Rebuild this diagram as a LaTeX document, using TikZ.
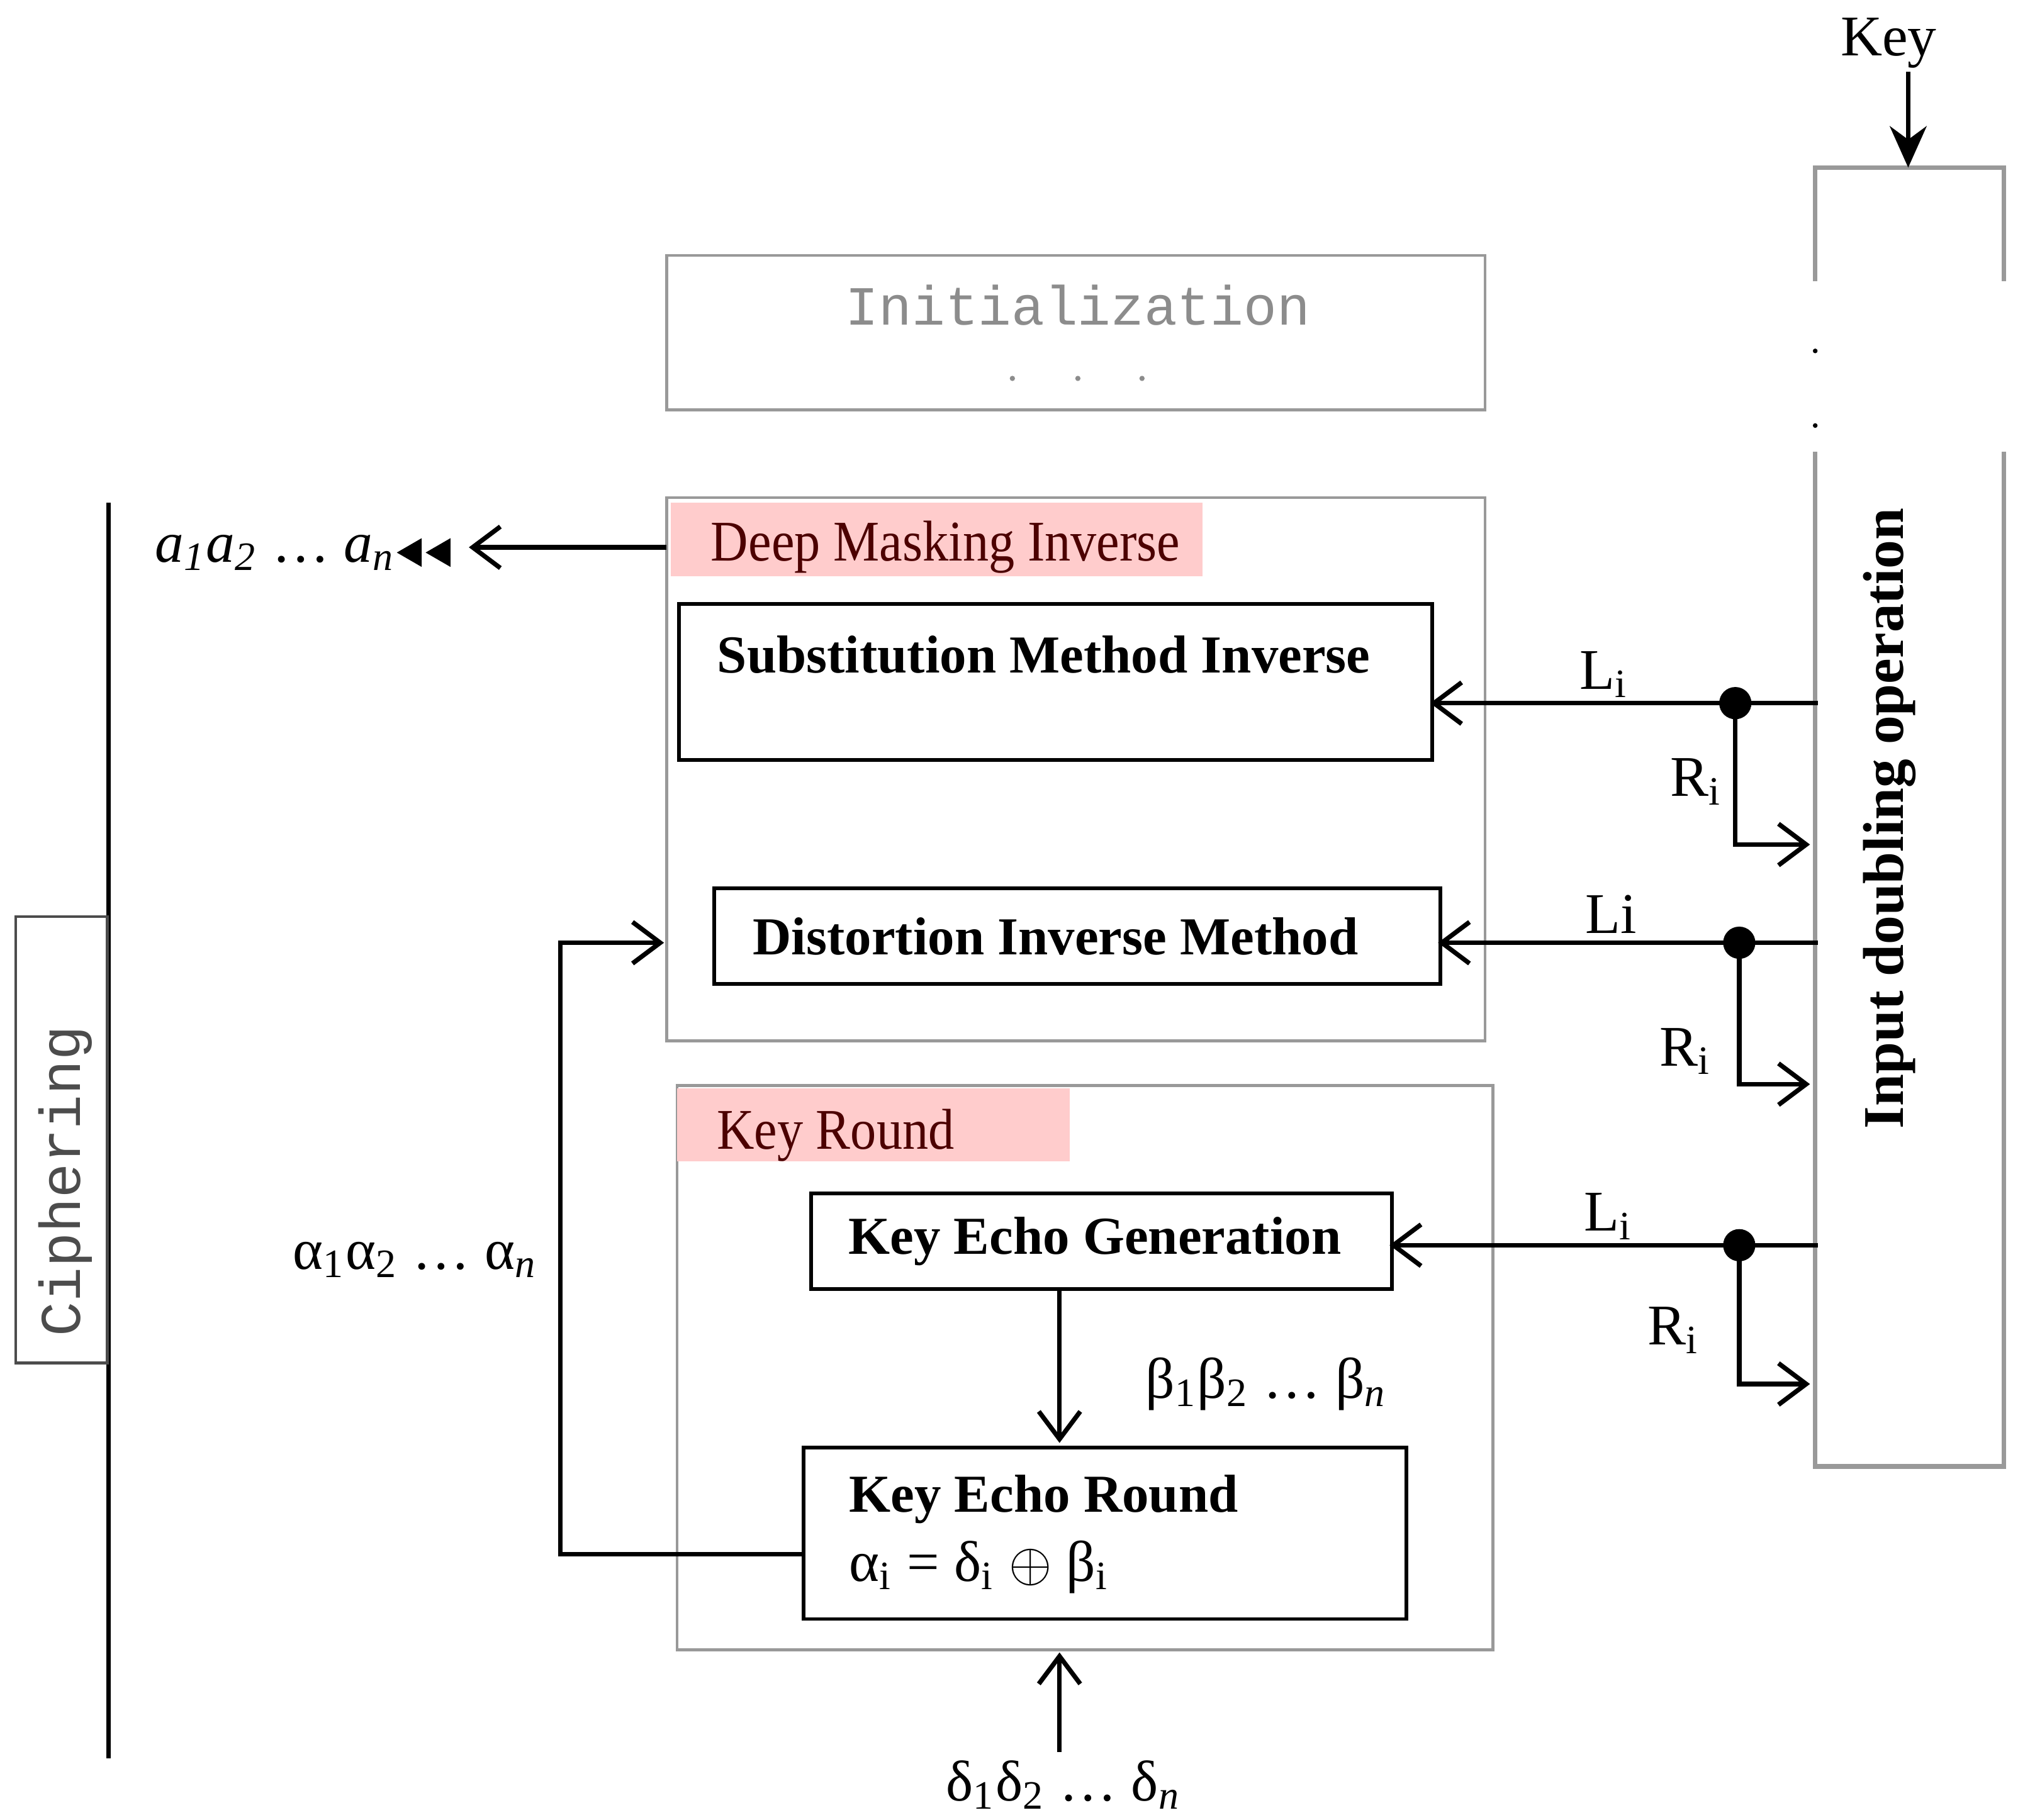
\documentclass[tikz,border=0pt]{standalone}
\usepackage{fontspec}
\setmainfont{Liberation Serif}
\setmonofont{Liberation Mono}
\usetikzlibrary{arrows.meta}
\newcommand{\sbs}[1]{\textsubscript{#1}}
\begin{document}
\begin{tikzpicture}[x=0.01cm,y=-0.01cm,
  gbox/.style={draw=black!40,line width=0.6pt},
  bbox/.style={draw=black,line width=0.8pt},
  conn/.style={line width=1pt,-{Straight Barb[length=6pt,width=9pt,line width=1pt]}},
  lab/.style={font=\fontsize{12.5}{15}\selectfont},
  hd/.style={font=\bfseries\fontsize{11.6}{14}\selectfont},
  dot/.style={circle,fill=black,inner sep=0pt,minimum size=7pt}]
\useasboundingbox (0,0) rectangle (1550,1390);
% right box
\draw[gbox,line width=1pt] (1386,215) -- (1386,128) -- (1530,128) -- (1530,215);
\draw[gbox,line width=1pt] (1386,345) -- (1386,1120) -- (1530,1120) -- (1530,345);
\fill (1386,268) circle (1.8);\fill (1386,325) circle (1.8);
\node[font=\bfseries\fontsize{12.5}{15}\selectfont,rotate=90] (ido) at (1443,625) {Input doubling operation};
\node[lab] (key) at (1442,33) {Key};
\coordinate (keyb) at (1457,128);
\draw[line width=1pt,-{Stealth[length=9pt,width=8pt]}] (1457,55) -- (keyb);
% init
\draw[gbox] (509,195) rectangle (1134,313);
\node[font=\ttfamily\fontsize{12}{14}\selectfont,text=black!45] (init) at (823,233) {Initialization};
\foreach \x in {773,823,872} \fill[black!45] (\x,289) circle (2);
% deep masking
\draw[gbox] (509,380) rectangle (1134,795);
\fill[red!20] (512,384) rectangle (918,440);
\node[lab,text=black!70!red,xscale=0.9] (dm) at (722,418) {Deep Masking Inverse};
\node[bbox,minimum width=5.75cm,minimum height=1.19cm,anchor=north west] (smi) at (517,460) {};
\node[hd] (smit) at (797,500) {Substitution Method Inverse};
\node[bbox,minimum width=5.54cm,minimum height=0.73cm,anchor=north west] (dim) at (544,677) {};
\node[hd] (dimt) at (806,715) {Distortion Inverse Method};
% key round
\draw[gbox] (517,829) rectangle (1140,1260);
\fill[red!20] (517,831) rectangle (817,887);
\node[lab,text=black!70!red,xscale=0.9] (kr) at (638,867) {Key Round};
\node[bbox,minimum width=4.43cm,minimum height=0.73cm,anchor=north west] (keg) at (618,910) {};
\node[hd] (kegt) at (836,948) {Key Echo Generation};
\node[bbox,minimum width=4.6cm,minimum height=1.31cm,anchor=north west] (ker) at (612,1104) {};
\node[hd,anchor=west] (kert1) at (636,1145) {Key Echo Round};
\node[lab,anchor=west] (kert2) at (636,1197) {α\sbs{i} = δ\sbs{i} $\oplus$ β\sbs{i}};
\draw[conn] (809,983) -- (809,1102);
\node[lab] (beta) at (967,1057) {β\sbs{1}β\sbs{2} … β\sbs{\textit{n}}};
\draw[conn] (809,1338) -- (809,1262);
\node[lab] (delta) at (812,1363) {δ\sbs{1}δ\sbs{2} … δ\sbs{\textit{n}}};
% feedback
\draw[conn] (612,1187) -- (428,1187) -- (428,720) -- (507,720);
\node[lab] (alpha) at (317,962) {α\sbs{1}α\sbs{2} … α\sbs{\textit{n}}};
% output
\draw[conn] (509,418) -- (358,418);
\fill (303,422) -- (322,411) -- (322,433) -- cycle;
\fill (325,422) -- (344,411) -- (344,433) -- cycle;
\node[lab] (aout) at (210,422) {\textit{a\sbs{1}a\sbs{2}} … \textit{a\sbs{n}}};
% ciphering
\draw[line width=1pt] (83,384) -- (83,1343);
\draw[draw=black!70,line width=0.6pt] (12,700) rectangle (82,1041);
\node[font=\ttfamily\fontsize{12.5}{15}\selectfont,text=black!70,rotate=90] (ciph) at (50,902) {Ciphering};
% rows
\foreach \y/\xd/\yr/\L/\lx/\rx/\ry/\tx in {537/1325/645/{L\sbs{i}}/1225/1295/597/1092, 720/1328/828/{Li}/1230/1287/803/1098, 951/1328/1057/{L\sbs{i}}/1228/1278/1016/1061}{
  \node[dot] (d\y) at (\xd,\y) {};
  \draw[conn] (1388,\y) -- (\tx,\y);
  \draw[conn] (d\y.center) -- (\xd,\yr) -- (1382,\yr);
  \node[lab] at (\lx,\y-22) {\L};
  \node[lab] at (\rx,\ry) {R\sbs{i}};
}
\end{tikzpicture}
\end{document}
